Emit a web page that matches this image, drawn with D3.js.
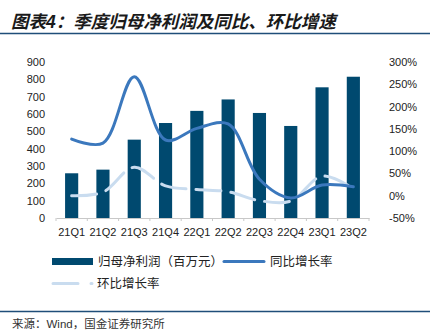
<!DOCTYPE html>
<html><head><meta charset="utf-8">
<script src="https://cdn.jsdelivr.net/npm/d3@7"></script>
<style>
html,body{margin:0;padding:0;background:#fff;}
svg{display:block;}
text{font-family:"Liberation Sans","Noto Sans CJK SC",sans-serif;}
</style></head>
<body>
<svg id="c" width="430" height="332"></svg>
<script>
const categories = ["21Q1","21Q2","21Q3","21Q4","22Q1","22Q2","22Q3","22Q4","23Q1","23Q2"];
const profit = [258, 279, 452, 548, 618, 684, 606, 531, 754, 815];
const yoy = [127, 118, 267, 125, 151, 161, 37, -5, 24, 20];
const qoq = [0, 8, 64, 22, 14, 9, -11, -12, 44, 16];
const leftTicks = [0,100,200,300,400,500,600,700,800,900];
const rightTicks = [-50,0,50,100,150,200,250,300];

const svg = d3.select("#c");
const W = 430, H = 332;
const x0 = 56, x1 = 369, yTop = 62, yBot = 218;

const x = d3.scaleBand().domain(categories).range([x0, x1]).paddingInner(0.58).paddingOuter(0.29);
const xb = d3.scaleBand().domain(categories).range([x0, x1]);
const yL = d3.scaleLinear().domain([0, 900]).range([yBot, yTop]);
const yR = d3.scaleLinear().domain([-50, 300]).range([yBot, yTop]);

// title
svg.append("text").attr("x", 11).attr("y", 28)
  .attr("font-family", "'Noto Sans CJK SC'").attr("font-size", 17.5).attr("font-weight", "bold")
  .attr("font-style", "italic").attr("fill", "#1a1a1a")
  .text("图表4：季度归母净利润及同比、环比增速");
svg.append("line").attr("x1", 0).attr("x2", W).attr("y1", 33.5).attr("y2", 33.5)
  .attr("stroke", "#1f4e79").attr("stroke-width", 1.5);

// bars
svg.append("g").selectAll("rect").data(profit).join("rect")
  .attr("x", (d, i) => x(categories[i])).attr("width", x.bandwidth())
  .attr("y", d => yL(d)).attr("height", d => yBot - yL(d))
  .attr("fill", "#00496f");

// x axis baseline
const ax = svg.append("g").attr("transform", `translate(0,${yBot})`)
  .call(d3.axisBottom(xb).tickSize(0).tickPadding(10).tickFormat(d => d));
ax.select(".domain").attr("stroke", "#c8c8c8").attr("stroke-width", 1);
ax.selectAll("text").attr("font-size", 11).attr("fill", "#222").attr("font-family", "'Liberation Sans'");
// tick marks at band boundaries
svg.append("g").selectAll("line").data(categories.concat(["_end"])).join("line")
  .attr("x1", (d, i) => x0 + i * xb.step()).attr("x2", (d, i) => x0 + i * xb.step())
  .attr("y1", yBot).attr("y2", yBot + 3).attr("stroke", "#c8c8c8");

// left axis
const al = svg.append("g").attr("transform", `translate(45,0)`)
  .call(d3.axisLeft(yL).tickValues(leftTicks).tickSize(0).tickPadding(0));
al.select(".domain").remove();
al.selectAll("text").attr("font-size", 11).attr("fill", "#222").attr("font-family", "'Liberation Sans'");

// right axis
const ar = svg.append("g").attr("transform", `translate(389,0)`)
  .call(d3.axisRight(yR).tickValues(rightTicks).tickSize(0).tickPadding(0).tickFormat(d => d + "%"));
ar.select(".domain").remove();
ar.selectAll("text").attr("font-size", 11).attr("fill", "#222").attr("font-family", "'Liberation Sans'");

const cx = i => x(categories[i]) + x.bandwidth() / 2;

// qoq dashed line
const lineQ = d3.line().x((d, i) => cx(i)).y(d => yR(d)).curve(d3.curveCatmullRom.alpha(0.5));
svg.append("path").attr("d", lineQ(qoq)).attr("fill", "none")
  .attr("stroke", "#c9dcef").attr("stroke-width", 3).attr("stroke-dasharray", "25,10")
  .attr("stroke-linecap", "round");

// yoy line
const lineY = d3.line().x((d, i) => cx(i)).y(d => yR(d)).curve(d3.curveCatmullRom.alpha(0.5));
svg.append("path").attr("d", lineY(yoy)).attr("fill", "none")
  .attr("stroke", "#3b78bd").attr("stroke-width", 3).attr("stroke-linecap", "round");

// legend
const lg = svg.append("g");
lg.append("rect").attr("x", 52).attr("y", 258).attr("width", 41).attr("height", 7).attr("fill", "#00496f");
lg.append("text").attr("x", 98).attr("y", 266).attr("font-size", 12.5).attr("fill", "#222")
  .attr("font-family", "'Noto Sans CJK SC'").text("归母净利润（百万元）");
lg.append("line").attr("x1", 224).attr("x2", 264).attr("y1", 261.5).attr("y2", 261.5)
  .attr("stroke", "#3b78bd").attr("stroke-width", 3).attr("stroke-linecap", "round");
lg.append("text").attr("x", 270).attr("y", 266).attr("font-size", 12.5).attr("fill", "#222")
  .attr("font-family", "'Noto Sans CJK SC'").text("同比增长率");
lg.append("line").attr("x1", 53).attr("x2", 92).attr("y1", 283.5).attr("y2", 283.5)
  .attr("stroke", "#c9dcef").attr("stroke-width", 3).attr("stroke-dasharray", "25,13")
  .attr("stroke-linecap", "round");
lg.append("text").attr("x", 97).attr("y", 288).attr("font-size", 12.5).attr("fill", "#222")
  .attr("font-family", "'Noto Sans CJK SC'").text("环比增长率");

// footer
svg.append("line").attr("x1", 0).attr("x2", W).attr("y1", 311.5).attr("y2", 311.5)
  .attr("stroke", "#1f4e79").attr("stroke-width", 1.5);
svg.append("text").attr("x", 12).attr("y", 328).attr("font-size", 11.5).attr("fill", "#333")
  .attr("font-family", "'Noto Sans CJK SC'").text("来源：Wind，国金证券研究所");
</script>
</body></html>
